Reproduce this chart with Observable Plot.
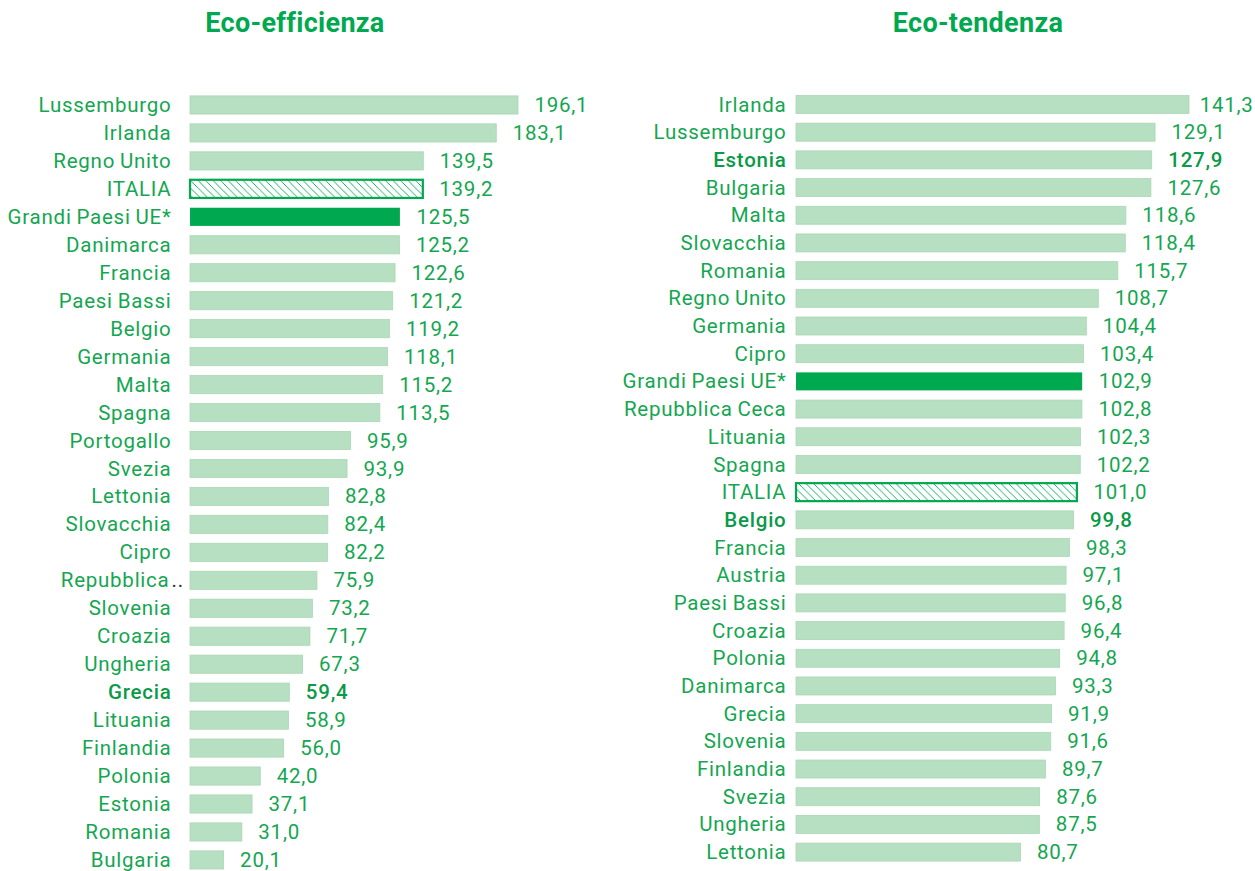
<!DOCTYPE html>
<html>
<head>
<meta charset="utf-8">
<script src="https://cdn.jsdelivr.net/npm/d3@7"></script>
<script src="https://cdn.jsdelivr.net/npm/@observablehq/plot@0.6"></script>
<style>
  html, body { margin: 0; padding: 0; background: #fff; }
  #root { position: relative; width: 1255px; height: 871px; font-family: Roboto, "DejaVu Sans", sans-serif; }
  .title { position: absolute; top: 7px; font-weight: 700; font-size: 27px; letter-spacing: 0.3px; color: #00a84f; transform: translateX(-50%); white-space: nowrap; }
  .panel { position: absolute; top: 50px; }
  .panel svg text { letter-spacing: 0.75px; word-spacing: -1px; }
  .panel svg { overflow: visible; }
</style>
</head>
<body>
<div id="root">
  <div class="title" style="left:295px">Eco-efficienza</div>
  <div class="title" style="left:978px">Eco-tendenza</div>
  <div class="panel" id="left" style="left:0px"></div>
  <div class="panel" id="right" style="left:620px"></div>
</div>
<script>
const effLabels = ["Lussemburgo","Irlanda","Regno Unito","ITALIA","Grandi Paesi UE*","Danimarca","Francia","Paesi Bassi","Belgio","Germania","Malta","Spagna","Portogallo","Svezia","Lettonia","Slovacchia","Cipro","Repubblica..","Slovenia","Croazia","Ungheria","Grecia","Lituania","Finlandia","Polonia","Estonia","Romania","Bulgaria"];
const effValues = [196.1,183.1,139.5,139.2,125.5,125.2,122.6,121.2,119.2,118.1,115.2,113.5,95.9,93.9,82.8,82.4,82.2,75.9,73.2,71.7,67.3,59.4,58.9,56.0,42.0,37.1,31.0,20.1];
const effBold = ["Grecia"];

const tenLabels = ["Irlanda","Lussemburgo","Estonia","Bulgaria","Malta","Slovacchia","Romania","Regno Unito","Germania","Cipro","Grandi Paesi UE*","Repubblica Ceca","Lituania","Spagna","ITALIA","Belgio","Francia","Austria","Paesi Bassi","Croazia","Polonia","Danimarca","Grecia","Slovenia","Finlandia","Svezia","Ungheria","Lettonia"];
const tenValues = [141.3,129.1,127.9,127.6,118.6,118.4,115.7,108.7,104.4,103.4,102.9,102.8,102.3,102.2,101.0,99.8,98.3,97.1,96.8,96.4,94.8,93.3,91.9,91.6,89.7,87.6,87.5,80.7];
const tenBold = ["Estonia","Belgio"];

const GREEN = "#00a84f";
const LIGHT = "#b7dfc1";
const TEXT = "#14a651";
const BOLDTEXT = "#0a9a48";
const FS = 20.5;
const fmt = v => v.toFixed(1).replace(".", ",");

function panel(el, labels, values, bold, cfg) {
  const maxV = d3.max(values);
  const data = labels.map((l, i) => ({label: l, value: values[i], bold: bold.includes(l),
    short: l.endsWith("..") ? l.slice(0, -2) : null}));
  const light = data.filter(d => d.label !== "ITALIA" && d.label !== "Grandi Paesi UE*");
  const dark = data.filter(d => d.label === "Grandi Paesi UE*");
  const hatch = data.filter(d => d.label === "ITALIA");
  const normal = data.filter(d => !d.bold);
  const boldD = data.filter(d => d.bold);
  const clampTop = cfg.clampTop;
  const valNormal = normal.filter(d => !(clampTop && d.value === maxV));
  const valClamped = normal.filter(d => clampTop && d.value === maxV);
  const id = "hatch-" + cfg.key;
  const chart = Plot.plot({
    width: cfg.width,
    height: 821,
    marginLeft: cfg.marginLeft,
    marginRight: cfg.marginRight,
    marginTop: 0,
    marginBottom: 0,
    style: {fontFamily: "Roboto, sans-serif", fontSize: FS + "px", background: "transparent", overflow: "visible"},
    x: {domain: [0, maxV], axis: null},
    y: {domain: labels, range: cfg.yRange, padding: 0.35, round: false, axis: null},
    marks: [
      Plot.barX(light, {x: "value", y: "label", fill: LIGHT, stroke: "#a9d8b5", strokeWidth: 0.8}),
      Plot.barX(dark, {x: "value", y: "label", fill: GREEN}),
      Plot.barX(hatch, {x: "value", y: "label", fill: `url(#${id})`, stroke: GREEN, strokeWidth: 2.2}),
      Plot.text(normal.filter(d => !d.short), {y: "label", text: "label", frameAnchor: "left", textAnchor: "end", dx: -cfg.labelGap + 1, fill: TEXT, fontSize: FS}),
      Plot.text(normal.filter(d => d.short), {y: "label", text: "short", frameAnchor: "left", textAnchor: "end", dx: -cfg.labelGap - 1, fill: TEXT, fontSize: FS}),
      Plot.text(normal.filter(d => d.short), {y: "label", text: () => "..", frameAnchor: "left", textAnchor: "start", dx: -cfg.labelGap + 1, fill: "#333", fontSize: FS}),
      Plot.text(boldD, {y: "label", text: "label", frameAnchor: "left", textAnchor: "end", dx: -cfg.labelGap + 1, fill: BOLDTEXT, fontSize: FS, fontWeight: 500}),
      Plot.text(valNormal, {x: "value", y: "label", text: d => fmt(d.value), textAnchor: "start", dx: 16, fill: TEXT, fontSize: FS}),
      Plot.text(valClamped, {y: "label", text: d => fmt(d.value), frameAnchor: "right", textAnchor: "end", dx: cfg.marginRight - 2, fill: TEXT, fontSize: FS}),
      Plot.text(boldD, {x: "value", y: "label", text: d => fmt(d.value), textAnchor: "start", dx: 16, fill: BOLDTEXT, fontSize: FS, fontWeight: 500})
    ]
  });
  const svg = d3.select(chart);
  const defs = svg.insert("defs", ":first-child");
  const p = defs.append("pattern").attr("id", id).attr("patternUnits", "userSpaceOnUse")
    .attr("width", 7.5).attr("height", 7.5);
  p.append("rect").attr("width", 7.5).attr("height", 7.5).attr("fill", "#fff");
  p.append("path").attr("d", "M-1,-1L8.5,8.5M-1,6.5L1,8.5M6.5,-1L8.5,1")
    .attr("stroke", GREEN).attr("stroke-width", 0.9).attr("fill", "none");
  el.appendChild(chart);
}

panel(document.getElementById("left"), effLabels, effValues, effBold,
  {key: "eff", width: 620, marginLeft: 190, marginRight: 102, labelGap: 20, yRange: [36.1, 828.8], clampTop: false});
panel(document.getElementById("right"), tenLabels, tenValues, tenBold,
  {key: "ten", width: 635, marginLeft: 176, marginRight: 66, labelGap: 11, yRange: [35.8, 820.8], clampTop: true});
</script>
</body>
</html>
